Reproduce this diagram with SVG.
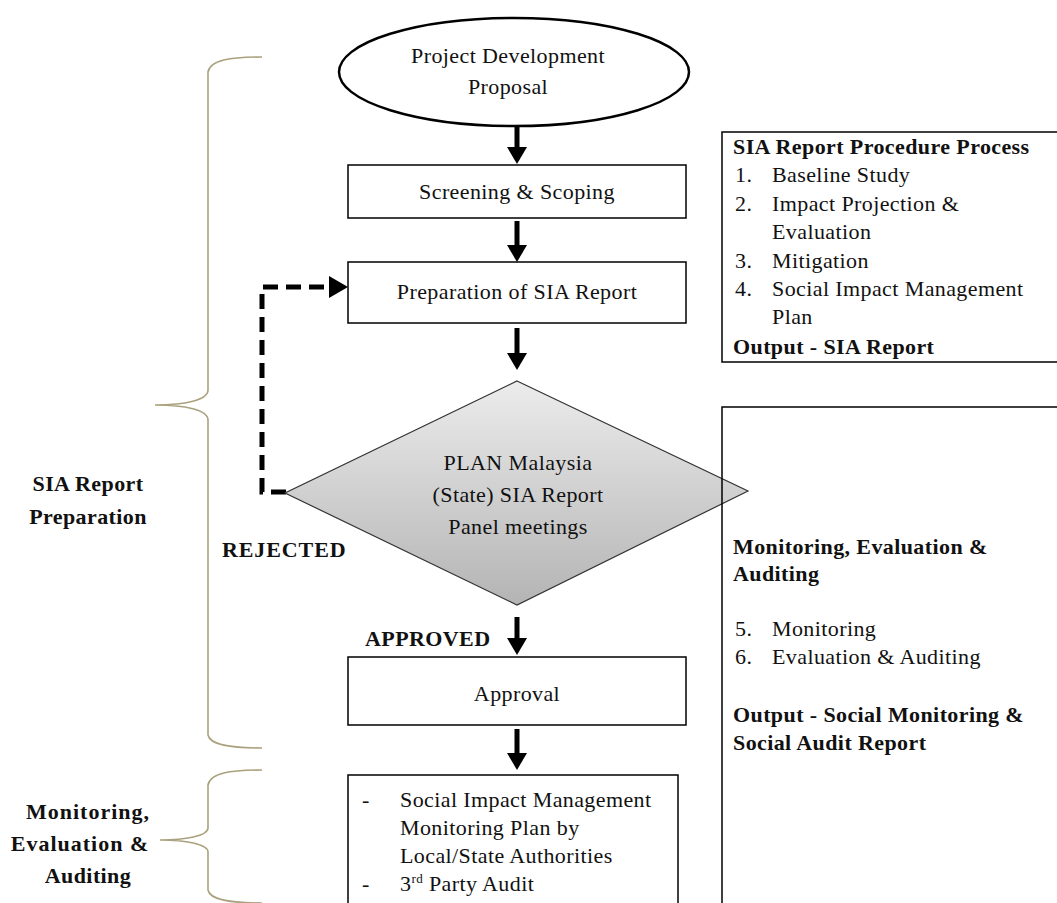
<svg xmlns="http://www.w3.org/2000/svg" width="1057" height="903" viewBox="0 0 1057 903">
<defs>
<linearGradient id="dg" x1="0" y1="0" x2="0" y2="1">
<stop offset="0" stop-color="#ececec"/>
<stop offset="1" stop-color="#b4b4b4"/>
</linearGradient>
</defs>
<style>
.t{font-family:"Liberation Serif","Times New Roman",serif;font-size:22px;fill:#111;letter-spacing:0.4px}
.b{font-weight:bold}
.c{text-anchor:middle}
.box{fill:#fff;stroke:#000;stroke-width:1.5}
.side{fill:none;stroke:#000;stroke-width:1.5}
.arr{stroke:#000;stroke-width:5;fill:none}
.head{fill:#000}
.br{fill:none;stroke:#aaa27e;stroke-width:1.6}
</style>
<rect width="1057" height="903" fill="#fff"/>

<g id="connectors">
<line class="arr" x1="517" y1="126" x2="517" y2="150"/>
<polygon class="head" points="507,147 527,147 517,164"/>
<line class="arr" x1="517" y1="221" x2="517" y2="248"/>
<polygon class="head" points="507,245 527,245 517,262"/>
<line class="arr" x1="517" y1="328" x2="517" y2="356"/>
<polygon class="head" points="507,353 527,353 517,370"/>
<line class="arr" x1="517" y1="617" x2="517" y2="641"/>
<polygon class="head" points="507,638 527,638 517,655"/>
<line class="arr" x1="517" y1="729" x2="517" y2="756"/>
<polygon class="head" points="507,753 527,753 517,770"/>
<path d="M286,492 L262,492 L262,287 L332,287" stroke="#000" stroke-width="5" fill="none" stroke-dasharray="15,8"/>
<polygon class="head" points="329,276 348,287 329,298"/>
</g>

<g id="n-proposal">
<ellipse cx="514" cy="72" rx="175" ry="54" fill="#fff" stroke="#000" stroke-width="2.5"/>
<text class="t c" x="508" y="63">Project Development</text>
<text class="t c" x="508" y="94">Proposal</text>
</g>

<g id="n-screening">
<rect class="box" x="348" y="165" width="338" height="53"/>
<text class="t c" x="517" y="199">Screening &amp; Scoping</text>
</g>

<g id="n-preparation">
<rect class="box" x="348" y="262" width="338" height="61"/>
<text class="t c" x="517" y="299">Preparation of SIA Report</text>
</g>

<g id="n-panel">
<polygon points="517,381 748,491 517,605 285,493" fill="url(#dg)" stroke="#333" stroke-width="1.2"/>
<text class="t c" x="518" y="470">PLAN Malaysia</text>
<text class="t c" x="518" y="502">(State)  SIA Report</text>
<text class="t c" x="518" y="534">Panel meetings</text>
</g>

<g id="n-approval">
<rect class="box" x="348" y="657" width="338" height="68"/>
<text class="t c" x="517" y="701">Approval</text>
</g>

<g id="n-monitoring">
<rect class="box" x="348" y="775" width="330" height="140"/>
<text class="t" x="362" y="807">-</text>
<text class="t" x="400" y="807">Social Impact Management</text>
<text class="t" x="400" y="835">Monitoring Plan by</text>
<text class="t" x="400" y="863">Local/State Authorities</text>
<text class="t" x="362" y="891">-</text>
<text class="t" x="400" y="891">3<tspan font-size="13" dy="-8">rd</tspan><tspan dy="8"> Party Audit</tspan></text>
</g>

<g id="labels">
<text class="t b" x="222" y="557" style="letter-spacing:0.9px">REJECTED</text>
<text class="t b" x="365" y="646">APPROVED</text>
</g>

<g id="box-procedure">
<rect class="side" x="722" y="132" width="345" height="230"/>
<text class="t b" x="733" y="154">SIA Report Procedure Process</text>
<text class="t" x="735" y="182">1.</text>
<text class="t" x="772" y="182">Baseline Study</text>
<text class="t" x="735" y="211">2.</text>
<text class="t" x="772" y="211">Impact Projection &amp;</text>
<text class="t" x="772" y="239">Evaluation</text>
<text class="t" x="735" y="268">3.</text>
<text class="t" x="772" y="268">Mitigation</text>
<text class="t" x="735" y="296">4.</text>
<text class="t" x="772" y="296">Social Impact Management</text>
<text class="t" x="772" y="324">Plan</text>
<text class="t b" x="733" y="354">Output - SIA Report</text>
</g>

<g id="box-monitoring">
<rect class="side" x="722" y="407" width="345" height="510"/>
<text class="t b" x="733" y="554">Monitoring, Evaluation &amp;</text>
<text class="t b" x="733" y="581">Auditing</text>
<text class="t" x="735" y="636">5.</text>
<text class="t" x="772" y="636">Monitoring</text>
<text class="t" x="735" y="664">6.</text>
<text class="t" x="772" y="664">Evaluation &amp; Auditing</text>
<text class="t b" x="733" y="722">Output  - Social Monitoring &amp;</text>
<text class="t b" x="733" y="750">Social Audit Report</text>
</g>

<g id="brace-preparation">
<path class="br" d="M262,57 C230,57 210,60 208,72 L208,390 C208,400 185,405 155,405 C185,405 208,410 208,420 L208,735 C210,745 230,748 262,748"/>
<text class="t b c" x="88" y="491">SIA Report</text>
<text class="t b c" x="88" y="524">Preparation</text>
</g>

<g id="brace-monitoring">
<path class="br" d="M262,770 C230,770 210,773 208,785 L208,828 C208,836 185,840 160,840 C185,840 208,844 208,852 L208,890 C210,900 230,903 262,903"/>
<text class="t b c" x="88" y="819" style="letter-spacing:1px">Monitoring,</text>
<text class="t b c" x="80" y="851" style="letter-spacing:1px">Evaluation &amp;</text>
<text class="t b c" x="88" y="883">Auditing</text>
</g>
</svg>
